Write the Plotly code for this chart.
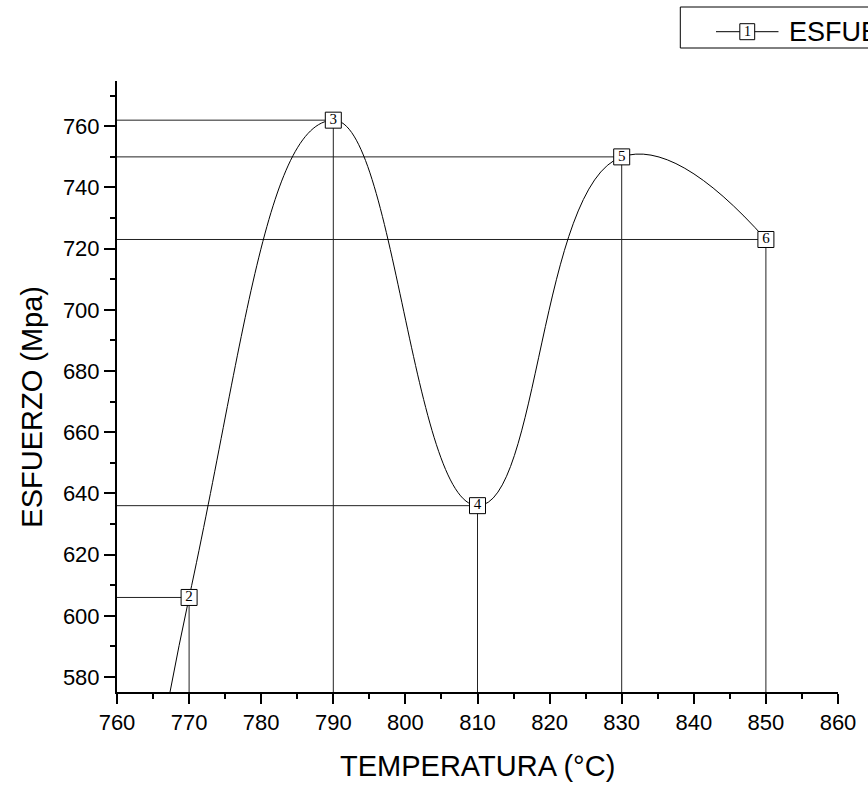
import plotly.graph_objects as go

# ---- data ----
temperatura = [750, 770, 790, 810, 830, 850]
esfuerzo = [250, 606, 762, 636, 750, 723]
etiquetas = ["1", "2", "3", "4", "5", "6"]

x_ticks = [760, 770, 780, 790, 800, 810, 820, 830, 840, 850, 860]
y_ticks = [580, 600, 620, 640, 660, 680, 700, 720, 740, 760]

X_RANGE = [760, 860]
Y_RANGE = [575.1, 774.8]

# plot area in pixels
L, R, T, B = 117, 844, 81, 692
W, H = 868, 786
PW, PH = R - L, B - T


def px(xp):
    return (xp - L) / PW


def py(yp):
    return (B - yp) / PH


FONT = "Liberation Sans, Arial, sans-serif"
SERIF = "Liberation Serif, Times New Roman, serif"

fig = go.Figure()

# drop lines (horizontal to y-axis, vertical to x-axis)
dx, dy = [], []
for xv, yv in zip(temperatura, esfuerzo):
    dx += [X_RANGE[0], xv, xv, None]
    dy += [yv, yv, Y_RANGE[0], None]
fig.add_trace(go.Scatter(x=dx, y=dy, mode="lines",
                         line=dict(color="#222222", width=1),
                         hoverinfo="skip", showlegend=False))

# spline curve with numbered square markers
fig.add_trace(go.Scatter(
    x=temperatura, y=esfuerzo, mode="lines+markers+text",
    text=etiquetas, textposition="middle center",
    textfont=dict(family=SERIF, size=15, color="black"),
    line=dict(color="black", width=1, shape="spline", smoothing=1.3),
    marker=dict(symbol="square", size=16, color="white",
                line=dict(color="black", width=1)),
    name="ESFUERZO", showlegend=False))

shapes = []
annotations = []

# manual legend (partly cut by the figure edge, as in the original)
ly = 31.7
shapes.append(dict(type="rect", xref="paper", yref="paper",
                   x0=px(685), x1=px(900), y0=py(48), y1=py(7),
                   line=dict(color="black", width=1), fillcolor="white",
                   layer="above"))
shapes.append(dict(type="line", xref="paper", yref="paper",
                   x0=px(721), x1=px(784), y0=py(ly), y1=py(ly),
                   line=dict(color="black", width=1), layer="above"))
shapes.append(dict(type="rect", xref="paper", yref="paper",
                   x0=px(745), x1=px(760), y0=py(ly + 8), y1=py(ly - 8),
                   line=dict(color="black", width=1), fillcolor="white",
                   layer="above"))
annotations.append(dict(xref="paper", yref="paper", x=px(752.5), y=py(ly),
                        text="1", showarrow=False, xanchor="center",
                        yanchor="middle",
                        font=dict(family=SERIF, size=14, color="black")))
annotations.append(dict(xref="paper", yref="paper", x=px(793), y=py(ly),
                        text="ESFUERZO", showarrow=False, xanchor="left",
                        yanchor="middle",
                        font=dict(family=FONT, size=27, color="black")))

# axis titles
annotations.append(dict(xref="paper", yref="paper", x=px(481), y=py(766),
                        text="TEMPERATURA (°C)", showarrow=False,
                        xanchor="center", yanchor="middle",
                        font=dict(family=FONT, size=29, color="black")))
annotations.append(dict(xref="paper", yref="paper", x=px(31), y=py(407),
                        text="ESFUERZO (Mpa)", showarrow=False, textangle=-90,
                        xanchor="center", yanchor="middle",
                        font=dict(family=FONT, size=29, color="black")))

fig.update_layout(
    width=W, height=H,
    margin=dict(l=L, r=W - R, t=T, b=H - B, pad=0),
    paper_bgcolor="white", plot_bgcolor="white",
    font=dict(family=FONT, size=22, color="black"),
    shapes=shapes, annotations=annotations,
    showlegend=False,
)
fig.update_xaxes(
    range=X_RANGE, tickmode="array", tickvals=x_ticks,
    ticktext=[str(v) for v in x_ticks],
    showline=True, linecolor="black", linewidth=2,
    ticks="outside", ticklen=10, tickwidth=2, tickcolor="black",
    minor=dict(ticks="outside", ticklen=5, tickwidth=2, tickcolor="black", dtick=5),
    showgrid=False, zeroline=False,
    tickfont=dict(family=FONT, size=22, color="black"),
)
fig.update_yaxes(
    range=Y_RANGE, tickmode="array", tickvals=y_ticks,
    ticktext=[str(v) for v in y_ticks],
    showline=True, linecolor="black", linewidth=2,
    ticks="outside", ticklen=11, tickwidth=2, tickcolor="black",
    minor=dict(ticks="outside", ticklen=5, tickwidth=2, tickcolor="black", dtick=10),
    showgrid=False, zeroline=False,
    tickfont=dict(family=FONT, size=22, color="black"),
)

fig.write_html("out.html")
